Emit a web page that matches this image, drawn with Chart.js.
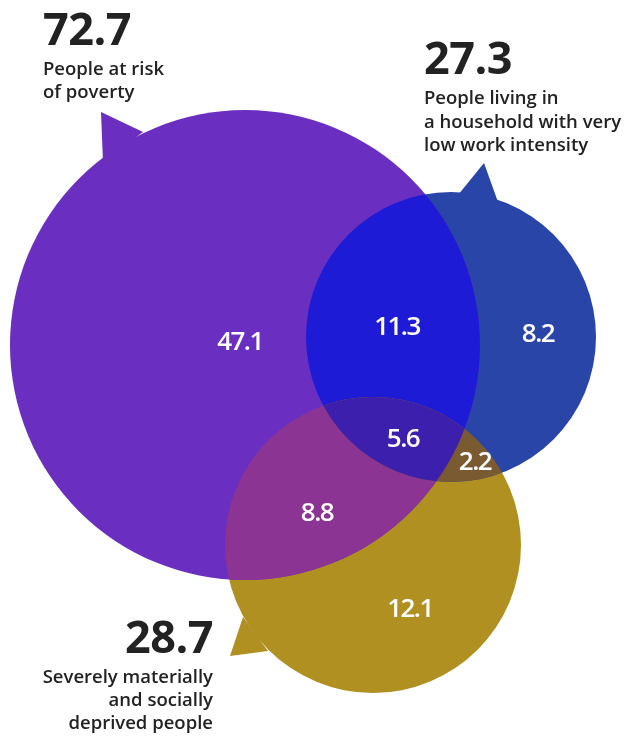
<!DOCTYPE html>
<html><head><meta charset="utf-8">
<script src="https://cdn.jsdelivr.net/npm/chart.js@4/dist/chart.umd.min.js"></script>
<style>html,body{margin:0;padding:0;background:#fff;}#wrap{width:631px;height:736px;}</style>
</head><body><div id="wrap"><canvas id="c" width="631" height="736"></canvas></div>
<script>
// ---- data ----
const setNumbers = ['72.7', '27.3', '28.7'];
const setTotals = [72.7, 27.3, 28.7];
const setLabelLines = [
  ['People at risk', 'of poverty'],
  ['People living in', 'a household with very', 'low work intensity'],
  ['Severely materially', 'and socially', 'deprived people']
];
const regionNames = ['Poverty only', 'Poverty & work intensity', 'Work intensity only', 'All three', 'Work intensity & deprivation', 'Poverty & deprivation', 'Deprivation only'];
const regionValues = [47.1, 11.3, 8.2, 5.6, 2.2, 8.8, 12.1];

// ---- layout (chart units; the scales map 1 unit to 1 px) ----
const circleCentres = [[245, 345], [451, 337], [373, 545]];
const circleRadii = [235, 145, 148];
const tailPoints = [
  [[101, 112], [143, 132], [103, 162]],
  [[458, 195], [484, 163], [498, 202]],
  [[243, 617], [230, 656], [268, 651]]
];
const regionPos = [[240, 343], [397, 328], [538, 335], [403, 440], [475, 463], [317, 514], [410, 610]];
const setLabelPos = [
  {x: 43, y: 45, align: 'left', lines: [75, 98]},
  {x: 424, y: 74, align: 'left', lines: [104, 128, 151]},
  {x: 213, y: 653, align: 'right', lines: [683, 706, 729]}
];

// ---- styles ----
const setColors = ['#6A2EC0', '#2A45A8', '#B09020'];
const pairColors = {'0-1': '#1E1BD6', '0-2': '#8C3494', '1-2': '#7A5A30'};
const tripleColor = '#3D1FAE';
const FONT = '"Open Sans", "Noto Sans", sans-serif';

function conv(chart) {
  const sx = chart.scales.x, sy = chart.scales.y;
  return {
    px: v => sx.getPixelForValue(v),
    py: v => sy.getPixelForValue(v),
    pr: r => Math.abs(sx.getPixelForValue(r) - sx.getPixelForValue(0))
  };
}
function circlePath(ctx, c, i) {
  ctx.beginPath();
  ctx.arc(c.px(circleCentres[i][0]), c.py(circleCentres[i][1]), c.pr(circleRadii[i]), 0, Math.PI * 2);
}

const vennPlugin = {
  id: 'venn',
  beforeDatasetsDraw(chart) {
    const ctx = chart.ctx, c = conv(chart);
    tailPoints.forEach((pts, i) => {
      ctx.save();
      ctx.fillStyle = setColors[i];
      ctx.beginPath();
      pts.forEach((p, k) => k ? ctx.lineTo(c.px(p[0]), c.py(p[1])) : ctx.moveTo(c.px(p[0]), c.py(p[1])));
      ctx.closePath();
      ctx.fill();
      ctx.restore();
    });
  },
  afterDatasetsDraw(chart) {
    const ctx = chart.ctx, c = conv(chart);
    // pairwise intersections
    [[0, 1], [0, 2], [1, 2]].forEach(([a, b]) => {
      ctx.save();
      circlePath(ctx, c, a); ctx.clip();
      circlePath(ctx, c, b);
      ctx.fillStyle = pairColors[a + '-' + b];
      ctx.fill();
      ctx.restore();
    });
    // triple intersection
    ctx.save();
    circlePath(ctx, c, 0); ctx.clip();
    circlePath(ctx, c, 1); ctx.clip();
    circlePath(ctx, c, 2);
    ctx.fillStyle = tripleColor;
    ctx.fill();
    ctx.restore();

    // region values
    ctx.save();
    ctx.fillStyle = '#ffffff';
    ctx.textAlign = 'center';
    ctx.textBaseline = 'middle';
    ctx.font = '600 26px ' + FONT;
    if ('letterSpacing' in ctx) ctx.letterSpacing = '-1.5px';
    regionValues.forEach((v, i) => {
      ctx.fillText(v.toFixed(1), c.px(regionPos[i][0]), c.py(regionPos[i][1]));
    });
    ctx.restore();

    // set labels
    ctx.save();
    ctx.fillStyle = '#222222';
    ctx.textBaseline = 'alphabetic';
    setLabelPos.forEach((L, i) => {
      ctx.textAlign = L.align;
      ctx.font = '700 45px ' + FONT;
      if ('letterSpacing' in ctx) ctx.letterSpacing = '-0.5px';
      ctx.fillText(setTotals[i].toFixed(1), c.px(L.x), c.py(L.y));
      ctx.font = '600 18.5px ' + FONT;
      if ('letterSpacing' in ctx) ctx.letterSpacing = '0px';
      setLabelLines[i].forEach((t, k) => ctx.fillText(t, c.px(L.x), c.py(L.lines[k])));
    });
    ctx.restore();
  }
};

new Chart(document.getElementById('c'), {
  type: 'bubble',
  data: {
    datasets: setLabelLines.map((lines, i) => ({
      label: lines.join(' '),
      // bubble r is in pixels; the scales here map 1 unit to 1 px
      data: [{x: circleCentres[i][0], y: circleCentres[i][1], r: circleRadii[i]}],
      backgroundColor: setColors[i],
      borderWidth: 0,
      clip: false
    }))
  },
  options: {
    responsive: false,
    animation: false,
    events: [],
    layout: {padding: 0, autoPadding: false},
    plugins: {legend: {display: false}, tooltip: {enabled: false}},
    scales: {
      x: {type: 'linear', min: 0, max: 631, display: false},
      y: {type: 'linear', min: 0, max: 736, reverse: true, display: false}
    }
  },
  plugins: [vennPlugin]
});
</script>
</body></html>
